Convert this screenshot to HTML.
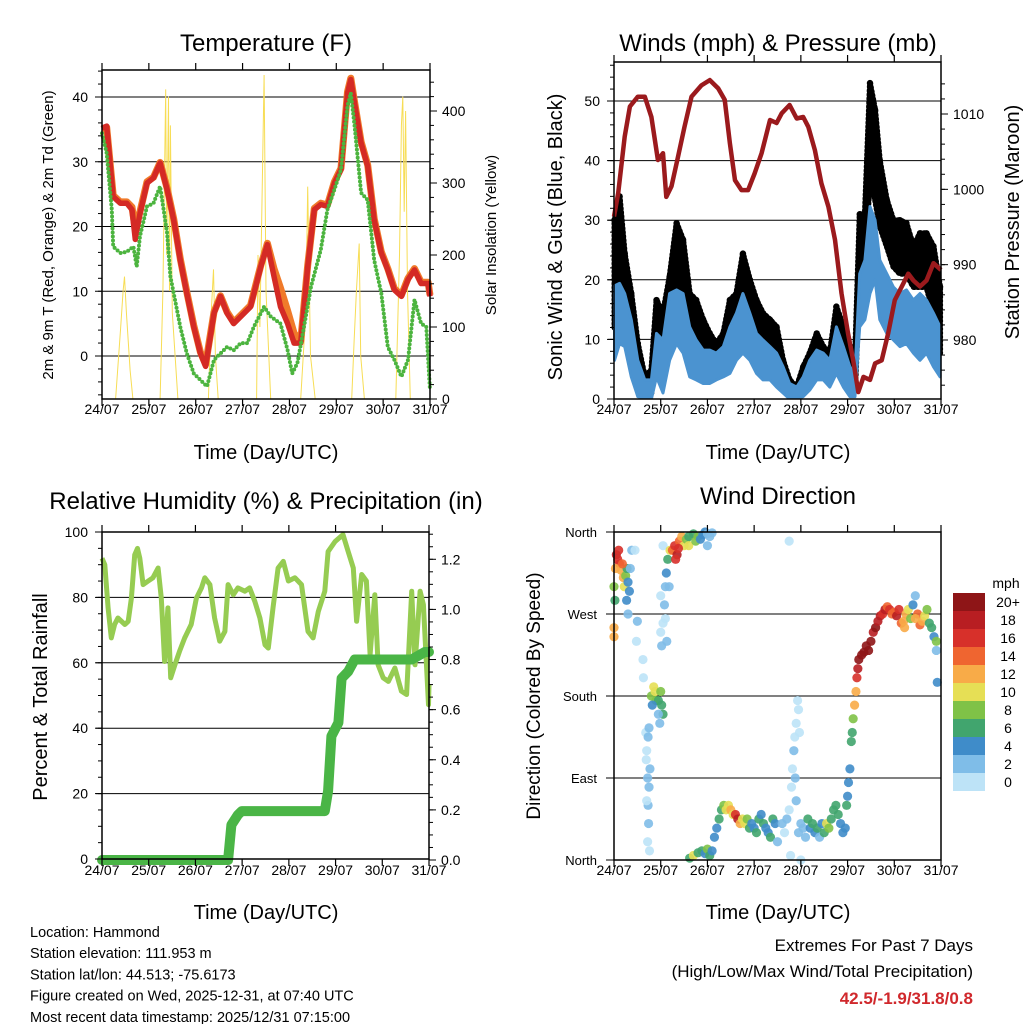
<!DOCTYPE html>
<html><head><meta charset="utf-8"><style>
html,body{margin:0;padding:0;background:#fff}
svg{display:block;font-family:"Liberation Sans",Arial,sans-serif}
</style></head><body>
<svg id="c" width="1024" height="1024" viewBox="0 0 1024 1024" xmlns="http://www.w3.org/2000/svg"></svg>
<script>
// ---------- DATA ----------
const dayLabels = ["24/07","25/07","26/07","27/07","28/07","29/07","30/07","31/07"];
const tempDays = [0,0.1,0.24,0.39,0.53,0.64,0.71,0.81,0.96,1.1,1.24,1.39,1.53,1.67,1.81,1.96,2.1,2.21,2.39,2.53,2.67,2.81,3.03,3.17,3.39,3.53,3.67,3.81,3.96,4.1,4.24,4.39,4.53,4.67,4.81,4.96,5.1,5.24,5.31,5.39,5.53,5.67,5.81,5.96,6.1,6.24,6.39,6.53,6.67,6.81,6.96,7.0];
const tempRed = [35.2,35.5,24.6,23.6,23.6,22.6,18,22,26.7,27.5,29.8,25.7,21,14.8,9.7,4.5,0.4,-1.6,6.6,9.2,6.6,5,6.6,7.6,13.8,17.2,12.3,7.6,5,2,2,13.8,22.6,23.4,23.1,26.7,28.8,40.6,42.7,39,32.9,29.3,21,15.9,13.3,10.2,9.2,11.8,13.3,11.2,11.2,9.2];
const tempOrange = [35.0,35.3,24.8,23.8,23.8,23.0,19.5,22.3,26.9,27.6,29.9,25.9,21.2,15.0,9.9,4.7,0.6,-1.3,6.8,9.3,6.8,5.2,6.8,7.8,14.0,17.4,13.5,10.5,7.0,3.5,2.3,14.0,22.8,23.6,23.3,26.9,29.0,40.8,42.9,39.2,33.1,29.5,21.2,16.1,13.5,10.4,9.4,12.0,13.5,11.4,11.4,9.4];
const tdDays = [0,0.1,0.21,0.24,0.39,0.53,0.67,0.74,0.81,0.96,1.1,1.24,1.39,1.46,1.53,1.67,1.81,1.96,2.1,2.24,2.39,2.53,2.67,2.81,2.96,3.1,3.24,3.46,3.6,3.81,3.96,4.06,4.17,4.31,4.46,4.67,4.81,4.96,5.1,5.24,5.31,5.39,5.53,5.67,5.81,5.96,6.1,6.24,6.39,6.53,6.67,6.81,6.92,7.0];
const tdGreen = [34.4,31.3,22.6,16.9,15.9,16.1,16.9,13.8,18.5,23.1,23.6,26.2,19,12.3,9.7,4.5,0.4,-2.7,-3.7,-4.7,-0.6,0.4,1.4,0.9,2,2,4.5,7.6,6.1,5,0.9,-2.7,-1.1,4.5,10.7,16.4,22.6,25.7,28.8,38.6,40.6,35.5,25.2,24.1,14.8,9.7,1.4,-0.6,-3.2,-0.6,8.7,5,4.5,-5.3];
const solarDays = [0,0.29,0.4,0.45,0.48,0.52,0.6,0.66,1.24,1.3,1.36,1.38,1.42,1.44,1.46,1.5,1.56,1.62,2.27,2.3,2.34,2.38,2.42,2.48,3.3,3.33,3.37,3.46,3.5,3.6,4.24,4.35,4.39,4.45,4.55,5.33,5.38,5.43,5.49,5.52,5.6,6.27,6.35,6.39,6.42,6.45,6.48,6.52,6.58,7.0];
const solarVals = [0,0,100,150,170,120,40,0,0,150,430,200,420,150,380,120,60,0,0,60,130,180,60,0,0,200,100,450,150,0,0,120,295,60,0,0,80,150,216,60,0,0,200,380,420,260,400,150,0,0];
const presDays = [0,0.09,0.23,0.34,0.51,0.66,0.8,0.94,1.05,1.12,1.23,1.37,1.51,1.66,1.87,2.05,2.23,2.37,2.48,2.59,2.73,2.87,3.01,3.16,3.34,3.48,3.59,3.76,3.91,4.05,4.16,4.3,4.44,4.59,4.73,4.87,5.01,5.12,5.23,5.34,5.48,5.59,5.73,5.87,6.01,6.16,6.3,6.41,6.55,6.69,6.84,7.0];
const presVals = [996.4,999.5,1007,1011,1012.3,1012.3,1009.6,1003.9,1004.8,999,1000.4,1004.3,1008.3,1012.3,1013.8,1014.5,1013.4,1011.9,1006.1,1001.2,999.9,999.9,1002.1,1004.8,1009.2,1008.8,1010.1,1011.2,1009.4,1009.6,1008.3,1005.2,1000.8,997.7,993.3,986.2,980.9,977.3,973.1,975.1,974.7,976.9,977.3,980.9,985.3,987.1,988.8,987.9,987.1,987.9,990.2,989.3];
const windDays = [0.01,0.12,0.23,0.37,0.51,0.66,0.8,0.91,1.05,1.19,1.34,1.48,1.62,1.76,1.91,2.05,2.19,2.34,2.48,2.62,2.76,2.91,3.05,3.19,3.34,3.48,3.62,3.76,3.91,4.05,4.19,4.34,4.48,4.62,4.76,4.91,5.05,5.16,5.26,5.37,5.48,5.59,5.69,5.84,5.98,6.12,6.26,6.41,6.55,6.69,6.84,6.98];
const gustHi = [30,34,24.4,17.7,9.3,3.7,4.9,16.6,14.4,20.5,29.5,26.7,17.7,16.6,13.3,11,9.3,11,16.6,17.7,24.4,20,16.6,14.4,13.3,12.1,6.5,3.2,2,5.4,7.7,11,8.8,7.7,15.5,12.1,6.5,6.5,31,31,53,48.5,40,33.4,30,30,29.5,25.6,27.8,27.8,25.6,18.8];
const gustLo = [12,17.7,17.7,9.3,3.7,0.4,1,9.3,6.5,11,18.8,16,9.3,7.7,6.5,5.4,4.9,6.5,8.8,11,15.5,12.1,8.8,7.7,7.7,5.4,3.2,0.4,0,1.5,3.7,6.5,5.4,4.3,8.8,6.5,2,1.5,20.5,23.3,37.3,33.4,29,25.6,22.2,21,21,18.8,18.8,18.8,14.4,7.7];
const sustHi = [19,19.4,17.7,13.3,6.5,3.2,3.2,11,9.9,17.7,18.3,17.7,12.1,9.9,8.2,8.2,7.7,8.8,12.1,14.4,17.7,14.4,11,9.9,8.8,7.7,5.4,2.6,2,3.7,6.5,8.2,7.7,6.5,12.1,8.8,5.4,4.3,21,23.3,32.3,30,23.3,21,18.8,17.7,18.3,16.6,17.7,16.6,14.4,12.1];
const sustLo = [6.5,9.3,8.8,3.7,0.4,0,0,3.7,1,6.5,9.3,7.7,3.7,3.2,2.6,2.6,3.2,3.7,4.3,6.5,7.7,6.5,4.3,3.2,3.2,2,1,0,0,0.4,1.5,3.2,3.2,2,4.3,2,0.4,0.4,12.1,13.3,17.7,20,13.3,11,9.9,8.8,9.3,7.7,6.5,7.7,5.4,3.7];
const rhDays = [0,0.06,0.13,0.2,0.27,0.34,0.49,0.56,0.63,0.7,0.76,0.81,0.88,0.99,1.09,1.2,1.27,1.34,1.41,1.47,1.56,1.66,1.77,1.91,2.02,2.13,2.2,2.31,2.41,2.52,2.63,2.7,2.81,2.91,3.06,3.16,3.27,3.38,3.49,3.56,3.66,3.77,3.88,3.99,4.13,4.27,4.41,4.52,4.63,4.77,4.84,4.99,5.16,5.27,5.38,5.45,5.56,5.66,5.74,5.84,5.91,6.02,6.13,6.27,6.41,6.52,6.63,6.7,6.81,6.88,6.99,7.0];
const rhVals = [92,90,76.8,67.6,71.7,73.7,71.7,72.7,79.8,93,95,92,83.9,85,86,89,79.8,60.4,76.8,55.4,59.4,63.5,67.6,71.7,79.8,82.9,86,83.9,73.7,66.6,69.6,83.9,80.8,82.9,81.9,82.9,78.8,73.7,65.5,64.5,76.8,89,91,85,86,83.9,69.6,67.6,75.7,81.9,94,97.1,99.2,94,89,72.7,87,85,62.5,80.8,59.4,55.4,54.3,58.4,51.3,50.3,81.9,59.4,81.9,77.8,47.2,53.3];
const precipDays = [0,2.7,2.77,2.91,2.99,4.77,4.84,4.91,5.06,5.13,5.27,5.41,6.63,6.91,7.0];
const precipVals = [0,0,0.14,0.18,0.195,0.195,0.276,0.494,0.548,0.725,0.752,0.8,0.8,0.83,0.83];
const dirDays = [0.05,0.08,0.12,0.03,0.15,0.2,0.22,0.25,0.28,0.3,0.33,0.35,0.38,0.45,0.0,0.02,0.0,0.0,0.18,0.1,0.27,0.3,0.5,0.48,0.62,0.63,0.68,0.7,0.72,0.75,0.73,0.7,0.74,0.72,0.76,0.77,0.69,0.75,0.73,0.8,0.85,0.88,0.9,0.95,1.0,1.02,1.05,0.82,0.95,0.98,1.0,1.02,1.05,1.08,1.1,1.12,1.15,1.18,1.1,1.13,1.0,1.05,1.2,1.25,1.3,1.35,1.4,1.45,1.5,1.55,1.6,1.7,1.8,1.9,1.95,2.0,2.05,2.1,1.32,1.38,1.6,1.75,1.85,2.0,1.62,1.7,1.8,1.88,1.95,2.0,2.05,2.1,2.15,2.2,2.25,2.3,2.35,2.4,2.45,2.5,2.55,2.6,2.65,2.7,2.75,2.8,2.85,2.9,2.95,3.0,3.05,3.1,3.15,3.2,3.25,3.3,3.35,3.4,3.45,3.5,3.6,3.65,3.7,3.75,3.8,3.82,3.85,3.87,3.9,3.93,3.95,3.97,3.88,3.9,3.95,4.0,4.05,4.1,3.78,4.0,3.75,4.15,4.2,4.25,4.3,4.35,4.4,4.45,4.5,4.55,4.6,4.65,4.7,4.75,4.8,4.85,4.9,4.95,4.98,5.0,5.02,5.05,5.08,5.1,5.12,5.15,5.18,5.2,5.22,5.24,5.3,5.35,5.4,5.45,5.5,5.55,5.6,5.65,5.7,5.75,5.8,5.85,5.9,5.95,6.0,6.05,6.1,6.15,6.2,6.25,6.3,6.35,6.4,6.45,6.5,6.55,6.6,6.65,6.7,6.75,6.8,6.85,6.9,6.92,6.9,6.45,6.22];
const dirDeg = [335,330,325,320,318,310,300,312,320,305,295,320,340,340,300,285,255,245,325,340,285,270,262,240,220,200,140,120,90,80,60,65,40,20,10,100,110,145,135,180,190,185,175,175,185,170,160,170,160,150,250,235,260,280,300,315,330,300,265,240,290,345,340,340,345,335,350,355,345,352,355,358,355,357,360,358,355,359,330,342,345,350,352,345,2,5,8,10,7,12,5,10,25,35,45,55,60,55,60,55,50,50,45,40,45,40,45,35,40,35,30,45,50,40,35,30,25,45,40,20,40,30,45,55,80,100,120,135,150,175,165,140,90,65,30,40,35,25,5,0,350,45,35,40,30,35,25,40,30,40,35,45,55,60,50,40,30,35,60,70,85,100,130,140,155,170,185,200,210,220,225,228,235,230,240,250,255,262,268,270,275,278,275,270,272,268,275,260,262,270,275,265,280,290,270,258,262,268,275,260,255,245,230,195,240,265,255];
const dirSpeed = [18,17,16,12,12,13,10,8,6,4,4,3,2,1,8,7,12,12,14,17,4,3,2,1,1,1,1,1,2,2,3,1,2,1,0,3,1,3,2,9,10,10,8,7,8,7,6,5,3,2,1,2,1,2,3,4,6,3,1,2,1,1,10,14,16,18,14,12,10,8,7,6,8,4,4,3,3,3,17,16,10,8,4,3,6,10,7,6,4,8,6,4,4,4,6,7,8,10,10,12,10,16,18,12,10,10,8,6,5,4,6,6,4,6,4,4,6,7,4,2,2,1,2,1,1,1,2,1,1,1,1,1,2,3,2,3,3,2,0,1,1,6,5,6,4,6,3,4,6,10,9,6,6,7,6,5,4,4,6,5,4,4,6,7,8,12,13,16,18,20,20,20,20,20,20,19,20,18,18,16,18,14,16,14,15,18,16,14,12,13,11,9,4,3,14,15,12,10,8,7,6,4,3,4,8,13,12];
const speedLabels = ["0","2","4","6","8","10","12","14","16","18","20+"];
const speedColors = ["#bde3f7","#7fbde8","#3f8cc9","#41a56e","#7fc247","#e6df55","#f8ab48","#ef6530","#d7302a","#b81e22","#8e1517"];
const dirLabels = ["North","East","South","West","North"];

// ---------- helpers ----------
const NS="http://www.w3.org/2000/svg";
const svg=document.getElementById('c');
function mk(tag,attrs,parent){const e=document.createElementNS(NS,tag);for(const k in attrs)e.setAttribute(k,attrs[k]);(parent||svg).appendChild(e);return e;}
function txt(s,x,y,size,anchor,parent,extra){const t=mk('text',Object.assign({x:x,y:y,'font-size':size,'text-anchor':anchor||'middle',fill:'#000'},extra||{}),parent);t.textContent=s;return t;}
function lineStr(xs,ys){return xs.map((v,i)=>v.toFixed(1)+','+ys[i].toFixed(1)).join(' ');}
function xAxis(g,L,R,B,T,labY){
  const xs=d=>L+(R-L)*d/7;
  for(let d=0;d<=7;d++){
    const tk=mk('line',{x1:xs(d),x2:xs(d),y1:B,y2:B+7,stroke:'#000','stroke-width':1.2},g);
    
    
    const tt=mk('line',{x1:xs(d),x2:xs(d),y1:T,y2:T-7,stroke:'#000','stroke-width':1.2},g);
    
    
    const lb=txt(dayLabels[d],xs(d),labY,14,'middle',g);
    
    
  }
}
function yTicks(g,x,dir,vals,fy,len){
  vals.forEach(v=>{const t=mk('line',{x1:x,x2:x+dir*len,y1:fy(v),y2:fy(v),stroke:'#000','stroke-width':1},g);
    
    });
}
function range(a,b,s){const r=[];for(let v=a;v<=b+1e-9;v+=s)r.push(+v.toFixed(4));return r;}
function frame(g,L,T,R,B){const f=mk('rect',{x:L,y:T,width:R-L,height:B-T,fill:'none',stroke:'#000','stroke-width':1.5},g);
  
  }
function grid(g,L,R,ys){ys.forEach(y=>{const l=mk('line',{x1:L,x2:R,y1:y,y2:y,stroke:'#000','stroke-width':1},g);
  
  });}

// ---------- Panel 1: Temperature ----------
(function(){
  const g=mk('g',{});
  
  
  const L=102,R=430,T=70,B=399;
  const xs=d=>L+(R-L)*d/7, yL=v=>356-v*6.475, yR=s=>399-s*0.72;
  grid(g,L,R,[0,10,20,30,40].map(yL));
  const sol=mk('polyline',{points:lineStr(solarDays.map(xs),solarVals.map(yR)),fill:'none',stroke:'#f7dd55','stroke-width':1},g);
  
  
  const or=mk('polyline',{points:lineStr(tempDays.map(xs),tempOrange.map(yL)),fill:'none',stroke:'#f07a2a','stroke-width':7,'stroke-linejoin':'round'},g);
  
  
  const rd=mk('polyline',{points:lineStr(tempDays.map(xs),tempRed.map(yL)),fill:'none',stroke:'#d42a25','stroke-width':5.5,'stroke-linejoin':'round'},g);
  
  
  const gr=mk('polyline',{points:lineStr(tdDays.map(xs),tdGreen.map(yL)),fill:'none',stroke:'#4cb43f','stroke-width':4,'stroke-dasharray':'0 4','stroke-linecap':'round','stroke-linejoin':'round'},g);
  
  
  frame(g,L,T,R,B);
  xAxis(g,L,R,B,T,414);
  yTicks(g,L,-1,range(-6,44,2),yL,4);
  yTicks(g,L,-1,[0,10,20,30,40],yL,7);
  yTicks(g,R,1,range(0,440,20),yR,4);
  yTicks(g,R,1,[0,100,200,300,400],yR,7);
  [0,10,20,30,40].forEach(v=>{const t=txt(String(v),L-14,yL(v)+5,14,'end',g);
    
    });
  [0,100,200,300,400].forEach(v=>{const t=txt(String(v),R+12,yR(v)+5,14,'start',g);
    
    });
  const ti=txt('Temperature (F)',266,51,24,'middle',g);
  
  
  const xl=txt('Time (Day/UTC)',266,459,20,'middle',g);
  
  
  const yl=txt('2m & 9m T (Red, Orange) & 2m Td (Green)',0,0,15,'middle',g,{transform:'translate(53,235) rotate(-90)'});
  
  
  const yr=txt('Solar Insolation (Yellow)',0,0,15,'middle',g,{transform:'translate(496,235) rotate(-90)'});
  
  
})();

// ---------- Panel 2: Winds & Pressure ----------
(function(){
  const g=mk('g',{});
  
  
  const L=614,R=941,T=62,B=399;
  const xs=d=>L+(R-L)*d/7, yL=v=>399-v*5.96, yR=p=>340-(p-980)*7.533;
  grid(g,L-6,R,[10,20,30,40,50].map(yL));
  const gx=windDays.map(xs);
  const gp=mk('polygon',{points:lineStr(gx,gustHi.map(yL))+' '+lineStr(gx.slice().reverse(),gustLo.slice().reverse().map(yL)),fill:'#000',stroke:'#000','stroke-width':6,'stroke-dasharray':'1 3','stroke-linecap':'round','stroke-linejoin':'round'},g);
  
  
  windDays.forEach((d,i)=>{const c=mk('circle',{cx:xs(d),cy:yL(gustHi[i]),r:3.2,fill:'#000'},g);
    
    });
  const sp=mk('polygon',{points:lineStr(gx,sustHi.map(yL))+' '+lineStr(gx.slice().reverse(),sustLo.slice().reverse().map(yL)),fill:'#4b93d0',stroke:'#4b93d0','stroke-width':3,'stroke-linejoin':'round'},g);
  
  
  const pr=mk('polyline',{points:lineStr(presDays.map(xs),presVals.map(yR)),fill:'none',stroke:'#9b1a1d','stroke-width':4.5,'stroke-linejoin':'round'},g);
  
  
  mk('rect',{x:L,y:B,width:R-L,height:12,fill:'#fff'},g);
  mk('rect',{x:L,y:T-12,width:R-L,height:12,fill:'#fff'},g);
  frame(g,L,T,R,B);
  xAxis(g,L,R,B,T,414);
  yTicks(g,L,-1,range(0,56,2),yL,4);
  yTicks(g,L,-1,[0,10,20,30,40,50],yL,7);
  yTicks(g,R,1,range(974,1014,2),yR,4);
  yTicks(g,R,1,[980,990,1000,1010],yR,7);
  [0,10,20,30,40,50].forEach(v=>{const t=txt(String(v),L-14,yL(v)+5,14,'end',g);
    
    });
  [980,990,1000,1010].forEach(v=>{const t=txt(String(v),R+12,yR(v)+5,14,'start',g);
    
    });
  const ti=txt('Winds (mph) & Pressure (mb)',778,51,24,'middle',g);
  
  
  const xl=txt('Time (Day/UTC)',778,459,20,'middle',g);
  
  
  const yl=txt('Sonic Wind & Gust (Blue, Black)',0,0,20,'middle',g,{transform:'translate(562,237) rotate(-90)'});
  
  
  const yr=txt('Station Pressure (Maroon)',0,0,20,'middle',g,{transform:'translate(1019,222) rotate(-90)'});
  
  
})();

// ---------- Panel 3: RH & Precip ----------
(function(){
  const g=mk('g',{});
  
  
  const L=102,R=429,T=532,B=859;
  const xs=d=>L+(R-L)*d/7, yL=v=>859-v*3.27, yR=p=>860-p*250.6;
  grid(g,L-6,R,[20,40,60,80].map(yL));
  const rh=mk('polyline',{points:lineStr(rhDays.map(xs),rhVals.map(yL)),fill:'none',stroke:'#96cc52','stroke-width':5,'stroke-linejoin':'round'},g);
  
  
  const pc=mk('polyline',{points:lineStr(precipDays.map(xs),precipVals.map(yR)),fill:'none',stroke:'#4ab546','stroke-width':10,'stroke-linejoin':'round','stroke-linecap':'round'},g);
  
  
  frame(g,L,T,R,B);
  xAxis(g,L,R,B,T,875);
  yTicks(g,L,-1,range(0,100,5),yL,4);
  yTicks(g,L,-1,range(0,100,20),yL,7);
  yTicks(g,R,1,range(0,1.3,0.05),yR,4);
  yTicks(g,R,1,range(0,1.2,0.2),yR,7);
  range(0,100,20).forEach(v=>{const t=txt(String(v),L-14,yL(v)+5,14,'end',g);
    
    });
  range(0,1.2,0.2).forEach(v=>{const t=txt(v.toFixed(1),R+12,yR(v)+5,14,'start',g);
    
    });
  const ti=txt('Relative Humidity (%) & Precipitation (in)',266,509,24,'middle',g);
  
  
  const xl=txt('Time (Day/UTC)',266,919,20,'middle',g);
  
  
  const yl=txt('Percent & Total Rainfall',0,0,20,'middle',g,{transform:'translate(47,697) rotate(-90)'});
  
  
})();

// ---------- Panel 4: Wind Direction ----------
(function(){
  const g=mk('g',{});
  
  
  const L=614,R=941,T=532,B=860;
  const xs=d=>L+(R-L)*d/7, yD=v=>860-v*(328/360);
  grid(g,L-8,R,[0,90,180,270,360].map(yD));
  const colorFor=s=>speedColors[Math.min(10,Math.max(0,Math.floor(s/2)))];
  dirDays.forEach((d,i)=>{const c=mk('circle',{cx:xs(d),cy:yD(dirDeg[i]),r:4.6,fill:colorFor(dirSpeed[i]),'fill-opacity':0.9},g);
    
    });
  frame(g,L,T,R,B);
  xAxis(g,L,R,B,T,875);
  dirLabels.forEach((s,i)=>{const t=txt(s,597,yD(i*90)+5,13,'end',g);
    
    });
  const ti=txt('Wind Direction',778,504,24,'middle',g);
  
  
  const xl=txt('Time (Day/UTC)',778,919,20,'middle',g);
  
  
  const yl=txt('Direction (Colored By Speed)',0,0,19,'middle',g,{transform:'translate(540,696) rotate(-90)'});
  
  
  const cb=mk('g',{},g);
  
  
  const ut=txt('mph',1006,588,14,'middle',cb);
  
  
  speedColors.forEach((col,i)=>{
    const y=593+(10-i)*18;
    const r=mk('rect',{x:953,y:y,width:32,height:18,fill:col},cb);
    
    
    const t=txt(speedLabels[i],1008,y+14,14,'middle',cb);
    
    
  });
})();

// ---------- footer text ----------
const info=["Location: Hammond","Station elevation: 111.953 m","Station lat/lon: 44.513; -75.6173","Figure created on Wed, 2025-12-31, at 07:40 UTC","Most recent data timestamp: 2025/12/31 07:15:00"];
info.forEach((s,i)=>{const t=txt(s,30,937+i*21.2,14.5,'start');
  
  });
const e1=txt('Extremes For Past 7 Days',973,951,17,'end');


const e2=txt('(High/Low/Max Wind/Total Precipitation)',973,977,17,'end');


const e3=txt('42.5/-1.9/31.8/0.8',973,1004,17,'end',null,{fill:'#d0282c','font-weight':'bold'});


</script>
</body></html>
